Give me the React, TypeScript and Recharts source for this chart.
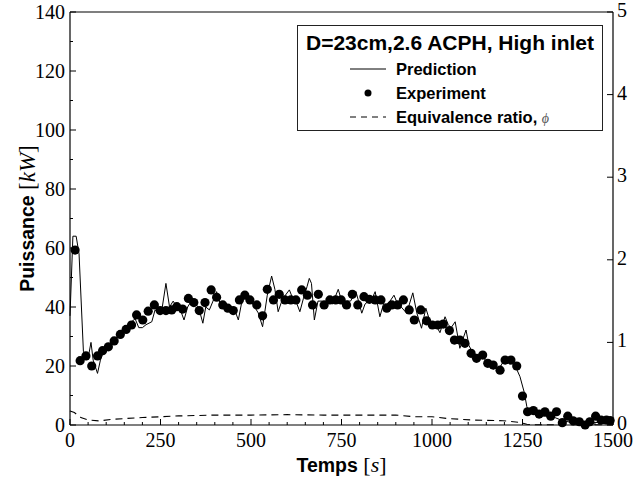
import React from 'react';
import { ComposedChart, Line, Scatter, XAxis, YAxis } from 'recharts';

// Predicted heat release rate (kW) vs time (s)
const predTime = [0, 8, 17, 25, 37, 46, 52, 58, 64, 76, 84, 92, 100, 110, 120, 130, 140, 150, 160, 170, 180, 190, 200, 210, 226, 235, 245, 255, 265, 275, 285, 295, 305, 315, 325, 335, 345, 355, 367, 375, 385, 395, 405, 415, 425, 435, 445, 455, 465, 475, 488, 500, 510, 520, 532, 545, 557, 566, 575, 585, 595, 606, 615, 624, 635, 645, 655, 661, 667, 675, 685, 695, 705, 715, 725, 741, 755, 765, 775, 790, 806, 815, 825, 835, 843, 856, 866, 875, 884, 895, 905, 915, 930, 947, 958, 971, 983, 992, 1000, 1010, 1022, 1036, 1045, 1053, 1064, 1077, 1085, 1094, 1102, 1110, 1120, 1130, 1140, 1150, 1160, 1170, 1180, 1190, 1199, 1210, 1220, 1230, 1243, 1255, 1262, 1270, 1285, 1300, 1320, 1340, 1360, 1380, 1400, 1420, 1440, 1460, 1480, 1500];
const predPower = [37, 64, 64, 58, 25, 22, 24, 28, 22, 17.5, 22, 24.5, 25, 27, 28, 30, 31, 32, 33, 35, 36, 33, 33, 34, 35, 39, 38, 40, 48, 40, 42, 40, 39, 35.6, 40, 42, 41, 40, 34.5, 40, 39, 42, 45.2, 41, 41, 40, 40, 39, 35.6, 42, 44.6, 42, 40, 38, 33.3, 44, 50.5, 46, 38.4, 42, 44, 45.8, 43, 42, 38.4, 43, 47, 49.7, 48, 35.6, 42, 42, 41, 42, 41, 46, 40.1, 42, 42, 45.2, 37.9, 41, 42, 43, 45.2, 36.7, 41, 41, 42, 44, 41, 40, 37.9, 44.8, 38, 32.8, 39.6, 36, 33, 34, 31.3, 36.7, 34, 33, 35, 26, 29, 32.2, 27, 25, 22, 23, 24, 21, 20, 19, 19.5, 20, 22, 21.5, 21, 20, 16.4, 11, 6.2, 4, 3.5, 3, 3, 2.5, 1.5, 1, 0.8, 0.5, 1, 0.8, 0.6, 0.5];

// Measured heat release rate (kW)
const expTime = [14, 28, 44, 60, 76, 90, 106, 122, 139, 155, 170, 184, 201, 216, 233, 249, 265, 281, 295, 311, 327, 342, 357, 373, 390, 405, 422, 436, 451, 468, 483, 497, 516, 532, 545, 562, 578, 594, 610, 624, 640, 656, 670, 686, 702, 718, 734, 749, 764, 780, 795, 812, 827, 843, 859, 875, 889, 905, 921, 937, 951, 969, 985, 1001, 1016, 1031, 1048, 1062, 1077, 1091, 1108, 1123, 1140, 1154, 1169, 1188, 1202, 1218, 1234, 1250, 1264, 1280, 1296, 1312, 1328, 1344, 1360, 1375, 1390, 1407, 1423, 1436, 1452, 1467, 1482, 1492];
const expPower = [59.3, 21.8, 23.4, 20, 23.4, 25.2, 26.5, 28.5, 30.7, 32.4, 33.9, 37.3, 35.6, 38.6, 40.7, 38.8, 38.8, 39, 40.1, 39.3, 42.9, 41.5, 38.8, 41.5, 45.8, 43.3, 40.7, 39.6, 38.8, 42.4, 44, 42.4, 40.7, 37, 46, 42.4, 44.3, 42.4, 42.4, 42.4, 45.8, 44, 40.7, 44.3, 40.7, 42.4, 42.4, 42.4, 40.7, 44.3, 40.7, 43.5, 42.6, 42.4, 42.4, 39.6, 40.7, 40.7, 42.4, 39, 35.6, 39, 35.3, 33.9, 33.9, 34.2, 32, 28.8, 28.8, 27.7, 24.3, 22.6, 23.7, 20.9, 20.3, 18.6, 22, 22, 20, 9.8, 4.5, 4.9, 3.7, 4.5, 3, 4.5, 0.8, 3, 1.4, 1.1, 0, 1.1, 3, 1.7, 1.7, 1.5];

// Equivalence ratio (right axis)
const phiTime = [0, 12, 30, 50, 80, 120, 200, 300, 400, 500, 600, 700, 800, 900, 950, 1000, 1040, 1113, 1196, 1243, 1262, 1275, 1500];
const phiValue = [0.17, 0.15, 0.09, 0.06, 0.05, 0.07, 0.09, 0.11, 0.12, 0.12, 0.125, 0.12, 0.12, 0.12, 0.1, 0.1, 0.08, 0.06, 0.052, 0.03, 0.01, 0.003, 0.003];

// Axis ticks
const timeLabels = [0, 250, 500, 750, 1000, 1250, 1500];
const timeTicks = Array.from({ length: 31 }, (_, i) => i * 50);
const powerLabels = [0, 20, 40, 60, 80, 100, 120, 140];
const powerTicks = Array.from({ length: 15 }, (_, i) => i * 10);
const phiTicks = [0, 1, 2, 3, 4, 5];

const predData = predTime.map((t, i) => ({ t, p: predPower[i] }));
const expData = expTime.map((t, i) => ({ t, p: expPower[i] }));
const phiData = phiTime.map((t, i) => ({ t, phi: phiValue[i] }));

const TICK_FONT = '"Liberation Serif", "DejaVu Serif", serif';
const SANS = '"Liberation Sans", Arial, sans-serif';

const BottomTick = (props: any) => {
  const { x, y, payload } = props;
  const major = timeLabels.includes(payload.value);
  return (
    <g>
      <line x1={x} x2={x} y1={y} y2={y - (major ? 6 : 3)} stroke="#000" strokeWidth={1} />
      {major && (
        <text x={x} y={y + 22} textAnchor="middle" fontFamily={TICK_FONT} fontSize={20} fill="#000">
          {payload.value}
        </text>
      )}
    </g>
  );
};

const TopTick = (props: any) => {
  const { x, y, payload } = props;
  const major = timeLabels.includes(payload.value);
  return <line x1={x} x2={x} y1={y} y2={y + (major ? 6 : 3)} stroke="#000" strokeWidth={1} />;
};

const LeftTick = (props: any) => {
  const { x, y, payload } = props;
  const major = powerLabels.includes(payload.value);
  return (
    <g>
      <line x1={x} x2={x + (major ? 6 : 3)} y1={y} y2={y} stroke="#000" strokeWidth={1} />
      {major && (
        <text x={x - 5} y={y + 7} textAnchor="end" fontFamily={TICK_FONT} fontSize={20} fill="#000">
          {payload.value}
        </text>
      )}
    </g>
  );
};

const RightTick = (props: any) => {
  const { x, y, payload } = props;
  return (
    <g>
      <line x1={x} x2={x - 6} y1={y} y2={y} stroke="#000" strokeWidth={1} />
      <text x={x + 4} y={y + 5} textAnchor="start" fontFamily={TICK_FONT} fontSize={20} fill="#000">
        {payload.value}
      </text>
    </g>
  );
};

const YLabel = (props: any) => {
  const { viewBox } = props;
  const cx = viewBox.x + 27;
  const cy = viewBox.y + viewBox.height / 2;
  return (
    <text x={cx} y={cy} transform={`rotate(-90 ${cx} ${cy})`} textAnchor="middle" dominantBaseline="central" fill="#000">
      <tspan fontFamily={SANS} fontWeight="bold" fontSize={19.5}>Puissance </tspan>
      <tspan fontFamily={TICK_FONT} fontSize={23}>[</tspan>
      <tspan fontFamily={TICK_FONT} fontStyle="italic" fontSize={23}>kW</tspan>
      <tspan fontFamily={TICK_FONT} fontSize={23}>]</tspan>
    </text>
  );
};

const XLabel = (props: any) => {
  const { viewBox } = props;
  const cx = viewBox.x + viewBox.width / 2;
  return (
    <text x={cx} y={viewBox.y + 47} textAnchor="middle" fill="#000">
      <tspan fontFamily={SANS} fontWeight="bold" fontSize={19.5}>Temps </tspan>
      <tspan fontFamily={TICK_FONT} fontSize={22}>[</tspan>
      <tspan fontFamily={TICK_FONT} fontStyle="italic" fontSize={22}>s</tspan>
      <tspan fontFamily={TICK_FONT} fontSize={22}>]</tspan>
    </text>
  );
};

const Dot = (props: any) => <circle cx={props.cx} cy={props.cy} r={4.6} fill="#000" />;

const legendItem: React.CSSProperties = {
  display: 'flex',
  alignItems: 'center',
  height: 24,
  fontFamily: SANS,
  fontWeight: 'bold',
  fontSize: 16.5,
  color: '#000',
};

const Legend = () => (
  <div
    style={{
      position: 'absolute',
      left: 297,
      top: 25,
      width: 304,
      height: 104,
      border: '1.5px solid #222',
      background: '#fff',
      boxSizing: 'content-box',
    }}
  >
    <div style={{ textAlign: 'center', fontFamily: SANS, fontWeight: 'bold', fontSize: 21, marginTop: 3, height: 28, lineHeight: '28px', color: '#000' }}>
      D=23cm,2.6 ACPH, High inlet
    </div>
    <div style={{ paddingLeft: 52 }}>
      <div style={legendItem}>
        <svg width={46} height={10}>
          <line x1={0} x2={36} y1={5} y2={5} stroke="#000" strokeWidth={1} />
        </svg>
        <span>Prediction</span>
      </div>
      <div style={legendItem}>
        <svg width={46} height={10}>
          <circle cx={18} cy={5} r={3.5} fill="#000" />
        </svg>
        <span>Experiment</span>
      </div>
      <div style={legendItem}>
        <svg width={46} height={10}>
          <line x1={0} x2={36} y1={5} y2={5} stroke="#000" strokeWidth={1} strokeDasharray="6 5" />
        </svg>
        <span>
          Equivalence ratio,{' '}
          <span style={{ fontFamily: TICK_FONT, fontStyle: 'italic', fontWeight: 'normal', fontSize: 14, color: '#555' }}>ϕ</span>
        </span>
      </div>
    </div>
  </div>
);

export default function App() {
  return (
    <div style={{ position: 'absolute', left: 0, top: 0, width: 633, height: 483, background: '#fff' }}>
      <ComposedChart width={633} height={483} margin={{ top: 0, right: 0, bottom: 0, left: 0 }}>
        <XAxis
          xAxisId="top"
          orientation="top"
          type="number"
          dataKey="t"
          domain={[0, 1500]}
          ticks={timeTicks}
          interval={0}
          height={12}
          tickSize={0}
          tickMargin={0}
          tick={<TopTick />}
          axisLine={{ stroke: '#000', strokeWidth: 1.2 }}
          tickLine={false}
        />
        <XAxis
          xAxisId={0}
          type="number"
          dataKey="t"
          domain={[0, 1500]}
          ticks={timeTicks}
          interval={0}
          height={58}
          tickSize={0}
          tickMargin={0}
          tick={<BottomTick />}
          axisLine={{ stroke: '#000', strokeWidth: 1.2 }}
          tickLine={false}
          label={<XLabel />}
        />
        <YAxis
          yAxisId="left"
          type="number"
          domain={[0, 140]}
          ticks={powerTicks}
          interval={0}
          width={70}
          tickSize={0}
          tickMargin={0}
          tick={<LeftTick />}
          axisLine={{ stroke: '#000', strokeWidth: 1.2 }}
          tickLine={false}
          label={<YLabel />}
        />
        <YAxis
          yAxisId="right"
          orientation="right"
          type="number"
          domain={[0, 5]}
          ticks={phiTicks}
          interval={0}
          width={20}
          tickSize={0}
          tickMargin={0}
          tick={<RightTick />}
          axisLine={{ stroke: '#000', strokeWidth: 1.2 }}
          tickLine={false}
        />
        <Line
          yAxisId="right"
          data={phiData}
          dataKey="phi"
          type="linear"
          stroke="#000"
          strokeWidth={1.1}
          strokeDasharray="7 5"
          dot={false}
          isAnimationActive={false}
        />
        <Line
          yAxisId="left"
          data={predData}
          dataKey="p"
          type="linear"
          stroke="#000"
          strokeWidth={1}
          dot={false}
          isAnimationActive={false}
        />
        <Scatter yAxisId="left" data={expData} dataKey="p" fill="#000" shape={<Dot />} isAnimationActive={false} />
      </ComposedChart>
      <Legend />
    </div>
  );
}
